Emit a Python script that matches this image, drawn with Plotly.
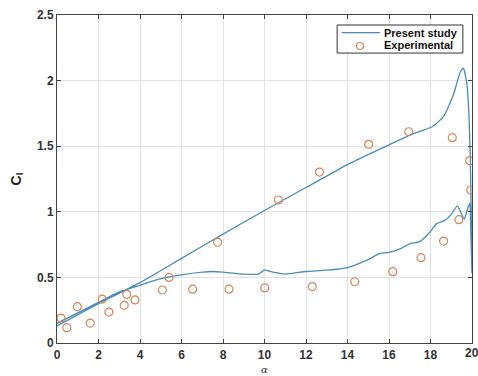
import plotly.graph_objects as go

# Simulated hysteresis loop: lower branch (0 -> 20), then upper branch (20 -> 0)
alpha_lower = [0, 1, 2, 3, 4, 5, 6, 7, 7.5, 8, 9, 9.7, 10, 10.4, 11, 12, 13, 14, 15,
               15.5, 16, 16.5, 17, 17.5, 18, 18.3, 18.7, 19.0, 19.29, 19.45, 19.63,
               19.8, 19.89, 19.95, 20.0]
cl_lower = [0.15, 0.23, 0.31, 0.39, 0.44, 0.49, 0.52, 0.54, 0.545, 0.54, 0.525, 0.525,
            0.555, 0.54, 0.525, 0.545, 0.555, 0.575, 0.635, 0.68, 0.69, 0.715, 0.755,
            0.775, 0.85, 0.91, 0.935, 0.98, 1.045, 1.0, 0.945, 1.03, 1.065, 0.8, 0.53]

alpha_upper = [20.0, 19.97, 19.92, 19.85, 19.75, 19.58, 19.42, 19.1, 18.62, 18.1, 17,
               16, 14, 12, 10, 8, 6, 4, 2, 0]
cl_upper = [0.53, 0.9, 1.4, 1.75, 1.98, 2.095, 2.06, 1.89, 1.725, 1.65, 1.585,
            1.51, 1.36, 1.185, 1.01, 0.83, 0.645, 0.46, 0.30, 0.13]

alpha_exp = [0.19, 0.47, 0.98, 1.6, 2.18, 2.5, 3.24, 3.36, 3.76, 5.08, 5.4, 6.54, 7.74,
             8.29, 10.01, 10.67, 12.3, 12.65, 14.35, 15.02, 16.18, 16.95, 17.54, 18.63,
             19.05, 19.37, 19.89, 19.94]
cl_exp = [0.19, 0.117, 0.277, 0.152, 0.335, 0.236, 0.287, 0.371, 0.328, 0.404, 0.5,
          0.41, 0.767, 0.41, 0.42, 1.09, 0.43, 1.303, 0.467, 1.514, 0.544, 1.61, 0.65,
          0.777, 1.565, 0.94, 1.39, 1.166]

x_ticks = [0, 2, 4, 6, 8, 10, 12, 14, 16, 18, 20]
y_ticks = [0, 0.5, 1, 1.5, 2, 2.5]
y_ticktext = ["0", "0.5", "1", "1.5", "2", "2.5"]
legend_labels = ["Present study", "Experimental"]

FONT = "Liberation Sans, Arial, sans-serif"
LINE_COLOR = "#4a8db5"
MARK_COLOR = "#d4865a"
TICKFONT = dict(family=FONT, size=12, color="#333", weight="bold")

fig = go.Figure()
fig.add_trace(go.Scatter(
    x=alpha_lower + alpha_upper, y=cl_lower + cl_upper,
    mode="lines", name=legend_labels[0], showlegend=False,
    line=dict(color=LINE_COLOR, width=1.3, shape="spline", smoothing=0.5),
))
fig.add_trace(go.Scatter(
    x=alpha_exp, y=cl_exp, mode="markers", name=legend_labels[1], showlegend=False,
    marker=dict(symbol="circle-open", size=8, color=MARK_COLOR, line=dict(width=1.2)),
))

axis_common = dict(
    showline=True, linecolor="#444", linewidth=1, mirror="ticks",
    ticks="inside", ticklen=4, tickcolor="#444", automargin=False,
    showgrid=True, gridcolor="#e3e3e3", gridwidth=1, zeroline=False,
    tickfont=TICKFONT,
)

# Compact MATLAB-style legend box (paper coordinates)
shapes = [
    dict(type="rect", xref="paper", yref="paper", x0=0.675, x1=0.978, y0=0.884, y1=0.9695,
         line=dict(color="#333", width=1), fillcolor="white", layer="above"),
    dict(type="line", xref="paper", yref="paper", x0=0.686, x1=0.778, y0=0.946, y1=0.946,
         line=dict(color=LINE_COLOR, width=1.3), layer="above"),
    dict(type="circle", xref="paper", yref="paper", x0=0.730 - 0.0084, x1=0.730 + 0.0084,
         y0=0.9055 - 0.0107, y1=0.9055 + 0.0107,
         line=dict(color=MARK_COLOR, width=1.2), layer="above"),
]
annotations = [
    dict(text=legend_labels[0], xref="paper", yref="paper", x=0.7825, y=0.946,
         xanchor="left", yanchor="middle", showarrow=False,
         font=dict(family=FONT, size=11, color="#111", weight="bold")),
    dict(text=legend_labels[1], xref="paper", yref="paper", x=0.7825, y=0.9075,
         xanchor="left", yanchor="middle", showarrow=False,
         font=dict(family=FONT, size=11, color="#111", weight="bold")),
    # last x tick label, which overflows the right edge as in the reference
    dict(text=str(x_ticks[-1]), xref="x", yref="paper", x=x_ticks[-1], y=-0.029,
         xanchor="center", yanchor="middle", showarrow=False, font=TICKFONT, borderpad=0),
    # x-axis title
    dict(text="α", xref="paper", yref="paper", x=0.5, y=-0.1,
         xanchor="center", yanchor="bottom", showarrow=False, borderpad=0,
         font=dict(family="DejaVu Serif, serif", size=10, color="#333", style="italic")),
]

fig.update_layout(
    width=478, height=376,
    margin=dict(l=57, r=6, t=15, b=33),
    paper_bgcolor="white", plot_bgcolor="white",
    shapes=shapes, annotations=annotations,
    xaxis=dict(range=[0, 20], tickvals=x_ticks, ticklabelstandoff=1, **axis_common),
    yaxis=dict(range=[0, 2.5], tickvals=y_ticks, ticktext=y_ticktext, **axis_common,
               title=dict(text="C<sub>l</sub>", font=dict(family=FONT, size=14,
                                                          color="#222", weight="bold"),
                          standoff=12)),
)

fig.write_html("out.html")
